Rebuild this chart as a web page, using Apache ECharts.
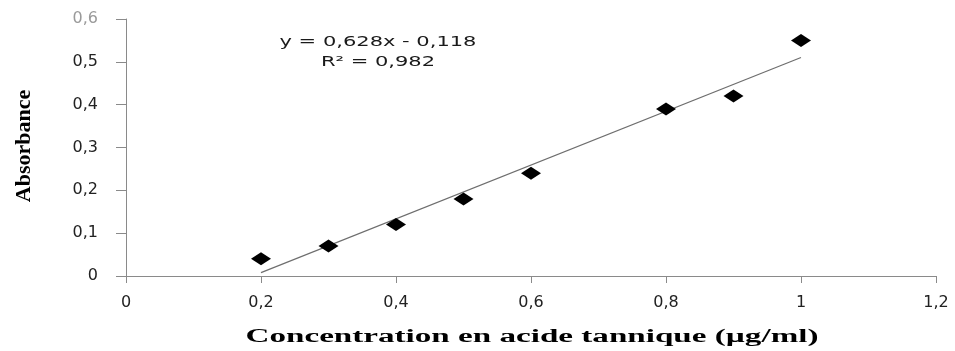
<!DOCTYPE html>
<html>
<head>
<meta charset="utf-8">
<script src="https://cdn.jsdelivr.net/npm/echarts@6/dist/echarts.min.js"></script>
<style>
html,body{margin:0;padding:0;background:#fff;}
#chart{width:955px;height:351px;}
</style>
</head>
<body>
<div id="chart"></div>
<script>
// Data
const concentration = [0.2, 0.3, 0.4, 0.5, 0.6, 0.8, 0.9, 1.0];
const absorbance = [0.04, 0.07, 0.12, 0.18, 0.24, 0.39, 0.42, 0.55];
const trendX = [0.2, 1.0];
const trendY = [0.008, 0.51];
const equationText = 'y = 0,628x - 0,118';
const r2Text = 'R² = 0,982';
const xTitle = 'Concentration en acide tannique (µg/ml)';
const yTitle = 'Absorbance';
const xTicks = {min: 0, max: 1.2, interval: 0.2};
const yTicks = {min: 0, max: 0.6, interval: 0.1};

const fmt = v => String(+(+v).toFixed(1)).replace('.', ',');

const chart = echarts.init(document.getElementById('chart'));
chart.setOption({
  animation: false,
  backgroundColor: '#fff',
  grid: {left: 126, right: 19, top: 19, bottom: 75, containLabel: false},
  xAxis: {
    type: 'value', min: xTicks.min, max: xTicks.max, interval: xTicks.interval,
    axisLine: {show: true, onZero: false, lineStyle: {color: '#8a8a8a', width: 1}},
    axisTick: {show: true, length: 7, lineStyle: {color: '#8a8a8a'}},
    splitLine: {show: false},
    axisLabel: {formatter: fmt, margin: 19, fontFamily: 'DejaVu Sans', fontSize: 16, color: '#222'}
  },
  yAxis: {
    type: 'value', min: yTicks.min, max: yTicks.max, interval: yTicks.interval,
    axisLine: {show: true, onZero: false, lineStyle: {color: '#8a8a8a', width: 1}},
    axisTick: {show: true, length: 10, lineStyle: {color: '#8a8a8a'}},
    splitLine: {show: false},
    axisLabel: {formatter: fmt, margin: 28, fontFamily: 'DejaVu Sans', fontSize: 16,
      color: (v) => (Math.abs(v - 0.6) < 1e-6 ? '#9a9a9a' : '#222')}
  },
  series: [
    {
      type: 'line',
      data: trendX.map((x, i) => [x, trendY[i]]),
      symbol: 'none',
      lineStyle: {color: '#6e6e6e', width: 1.2},
      z: 2
    },
    {
      type: 'scatter',
      data: concentration.map((x, i) => [x, absorbance[i]]),
      symbol: 'diamond',
      symbolSize: [20, 13],
      itemStyle: {color: '#000', opacity: 1},
      z: 3
    }
  ],
  graphic: [
    {
      type: 'text', x: 378, y: 42, scaleX: 1.5,
      style: {text: equationText, font: '14px "DejaVu Sans"', fill: '#1a1a1a', align: 'center', verticalAlign: 'middle'}
    },
    {
      type: 'text', x: 378, y: 62, scaleX: 1.5,
      style: {text: r2Text, font: '14px "DejaVu Sans"', fill: '#1a1a1a', align: 'center', verticalAlign: 'middle'}
    },
    {
      type: 'text', x: 532, y: 337, scaleX: 1.84,
      style: {text: xTitle, font: 'bold 18px "Liberation Serif"', fill: '#000', align: 'center', verticalAlign: 'middle'}
    },
    {
      type: 'text', x: 24, y: 146, rotation: Math.PI / 2,
      style: {text: yTitle, font: 'bold 22px "Liberation Serif"', fill: '#000', align: 'center', verticalAlign: 'middle'}
    }
  ]
});
</script>
</body>
</html>
